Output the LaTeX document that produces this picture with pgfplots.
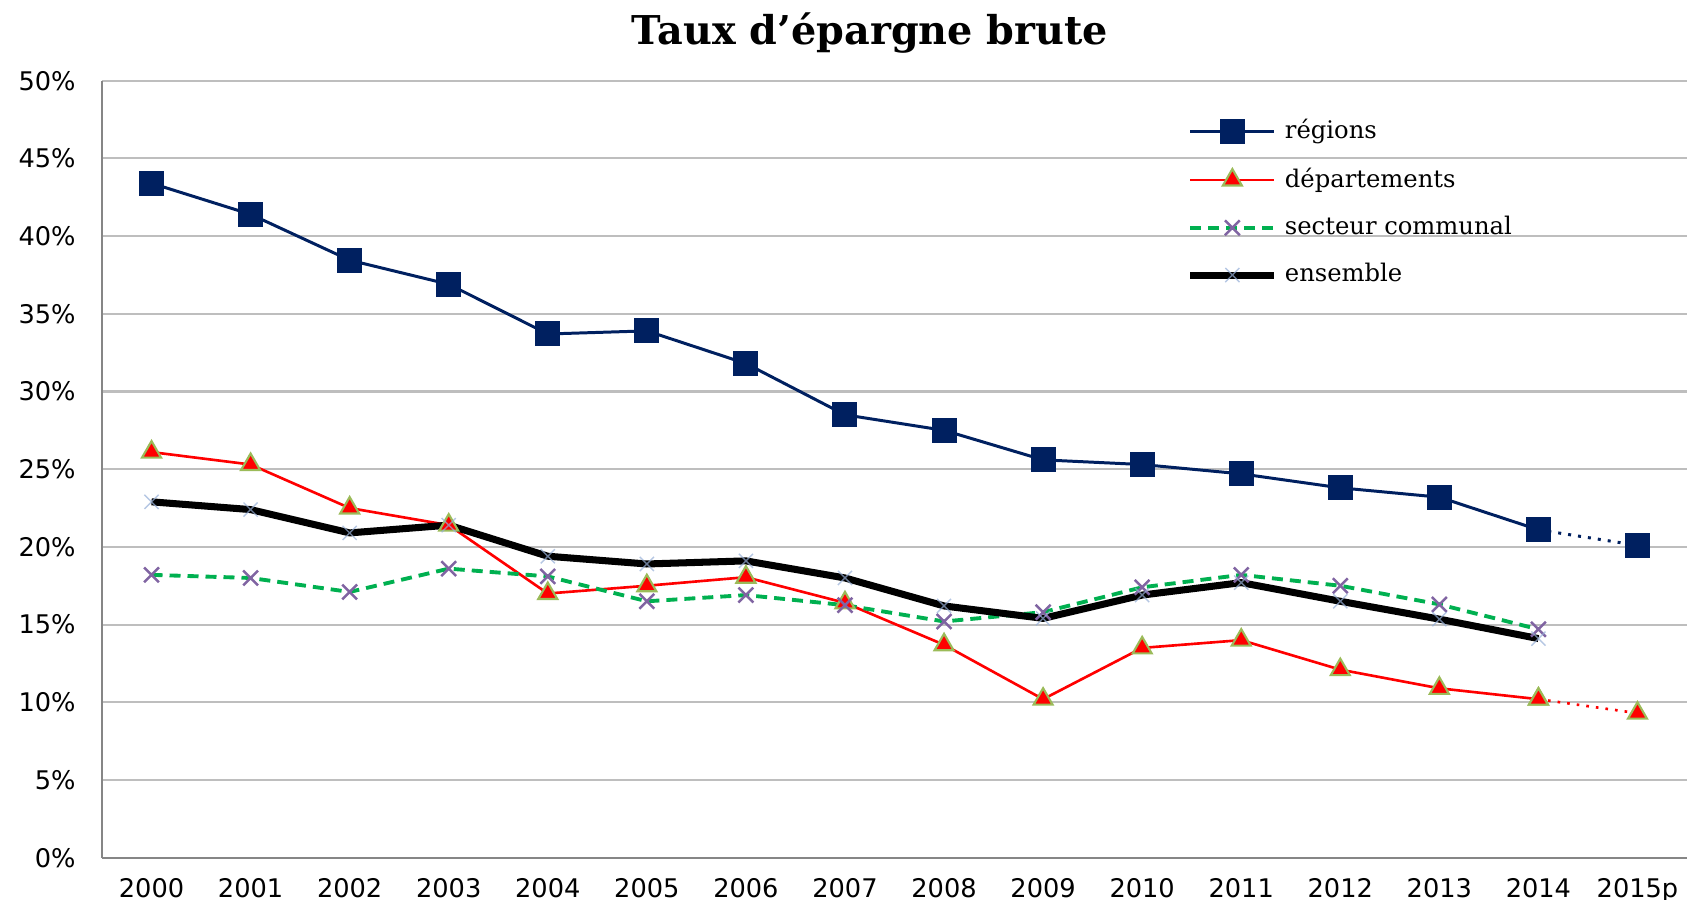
\documentclass[border=0pt]{standalone}
\usepackage{fontspec}
\setmainfont{DejaVu Serif}
\newfontfamily\tickfont{DejaVu Sans}
\usepackage{pgfplots}
\pgfplotsset{compat=1.18}
\definecolor{navy}{RGB}{0,32,96}
\definecolor{olivec}{RGB}{155,187,89}
\definecolor{xgreen}{RGB}{0,176,80}
\definecolor{xpurple}{RGB}{128,100,162}
\definecolor{gridc}{RGB}{190,190,190}
\definecolor{axisc}{RGB}{134,134,134}
\definecolor{lightx}{RGB}{150,175,215}
\begin{document}
\begin{tikzpicture}
\begin{axis}[
  scale only axis, width=158.5mm, height=77.7mm,
  xmin=-0.5, xmax=15.5, ymin=0, ymax=50,
  axis lines*=left,
  axis line style={draw=axisc, line width=0.6pt},
  ytick={0,5,...,50},
  yticklabel={\pgfmathprintnumber{\tick}\%},
  ymajorgrids, grid style={draw=gridc, line width=0.6pt},
  ytick style={draw=none},
  xtick={0,...,15},
  xticklabels={2000,2001,2002,2003,2004,2005,2006,2007,2008,2009,2010,2011,2012,2013,2014,2015p},
  major x tick style={draw=none},
  extra x ticks={-0.5,0.5,...,15.5},
  extra x tick labels={},
  extra x tick style={grid=none, major tick length=0.5mm, tick style={draw=axisc, line width=0.6pt}},
  tick align=outside,
  /pgf/number format/assume math mode=true,
  ticklabel style={font=\tickfont\fontsize{7.3}{8}\selectfont},
  xticklabel style={yshift=0.7mm},
  yticklabel style={xshift=0.1mm},
  legend style={at={(rel axis cs:0.684,0.96)}, anchor=north west, draw=none, fill=none,
    font=\fontsize{6.9}{8}\selectfont, row sep=0.95mm, cells={anchor=west}, inner sep=0pt},
  legend image code/.code={\draw[mark repeat=2,mark phase=2,#1] plot coordinates {(0mm,0mm) (4.2mm,0mm) (8.4mm,0mm)};},
  clip=false,
]
% regions
\addplot[navy, line width=0.85pt, mark=square*, mark size=1.1mm, mark options={solid, fill=navy}] coordinates {
(0,43.4) (1,41.4) (2,38.45) (3,36.9) (4,33.7) (5,33.9) (6,31.8) (7,28.5) (8,27.5) (9,25.6) (10,25.3) (11,24.7) (12,23.8) (13,23.2) (14,21.1)};
\addlegendentry{régions}
\addplot[forget plot, navy, line width=0.85pt, dotted, mark=square*, mark size=1.1mm, mark options={solid, fill=navy}] coordinates {(14,21.1) (15,20.1)};
% departements
\addplot[red, line width=0.75pt, mark=triangle*, mark size=1.1mm, mark options={solid, fill=red, draw=olivec, line width=0.6pt}] coordinates {
(0,26.1) (1,25.3) (2,22.5) (3,21.4) (4,17.0) (5,17.5) (6,18.05) (7,16.4) (8,13.7) (9,10.2) (10,13.5) (11,14.0) (12,12.1) (13,10.9) (14,10.2)};
\addlegendentry{départements}
\addplot[forget plot, red, line width=0.75pt, dotted, mark=triangle*, mark size=1.1mm, mark options={solid, fill=red, draw=olivec, line width=0.6pt}] coordinates {(14,10.2) (15,9.3)};
% secteur communal
\addplot[xgreen, line width=1.1pt, dash pattern=on 1.1mm off 0.7mm, mark=x, mark size=1.05mm, mark options={solid, draw=xpurple, line width=0.7pt}] coordinates {
(0,18.2) (1,18.0) (2,17.1) (3,18.6) (4,18.1) (5,16.5) (6,16.9) (7,16.25) (8,15.2) (9,15.8) (10,17.4) (11,18.2) (12,17.5) (13,16.3) (14,14.7)};
\addlegendentry{secteur communal}
% ensemble
\addplot[black, line width=2pt, mark=x, mark size=1mm, mark options={solid, draw=lightx, line width=0.4pt, opacity=0.7}] coordinates {
(0,22.9) (1,22.4) (2,20.9) (3,21.4) (4,19.4) (5,18.9) (6,19.1) (7,18.0) (8,16.2) (9,15.4) (10,16.9) (11,17.7) (12,16.5) (13,15.35) (14,14.1)};
\addlegendentry{ensemble}
\end{axis}
\node[font=\fontsize{11.3}{13}\selectfont\bfseries] at (76.8mm,82.5mm) {Taux d’épargne brute};
\pgfresetboundingbox
\path[use as bounding box] (-10.2mm,-4.2mm) rectangle (158.5mm,85.77mm);
\end{tikzpicture}
\end{document}
